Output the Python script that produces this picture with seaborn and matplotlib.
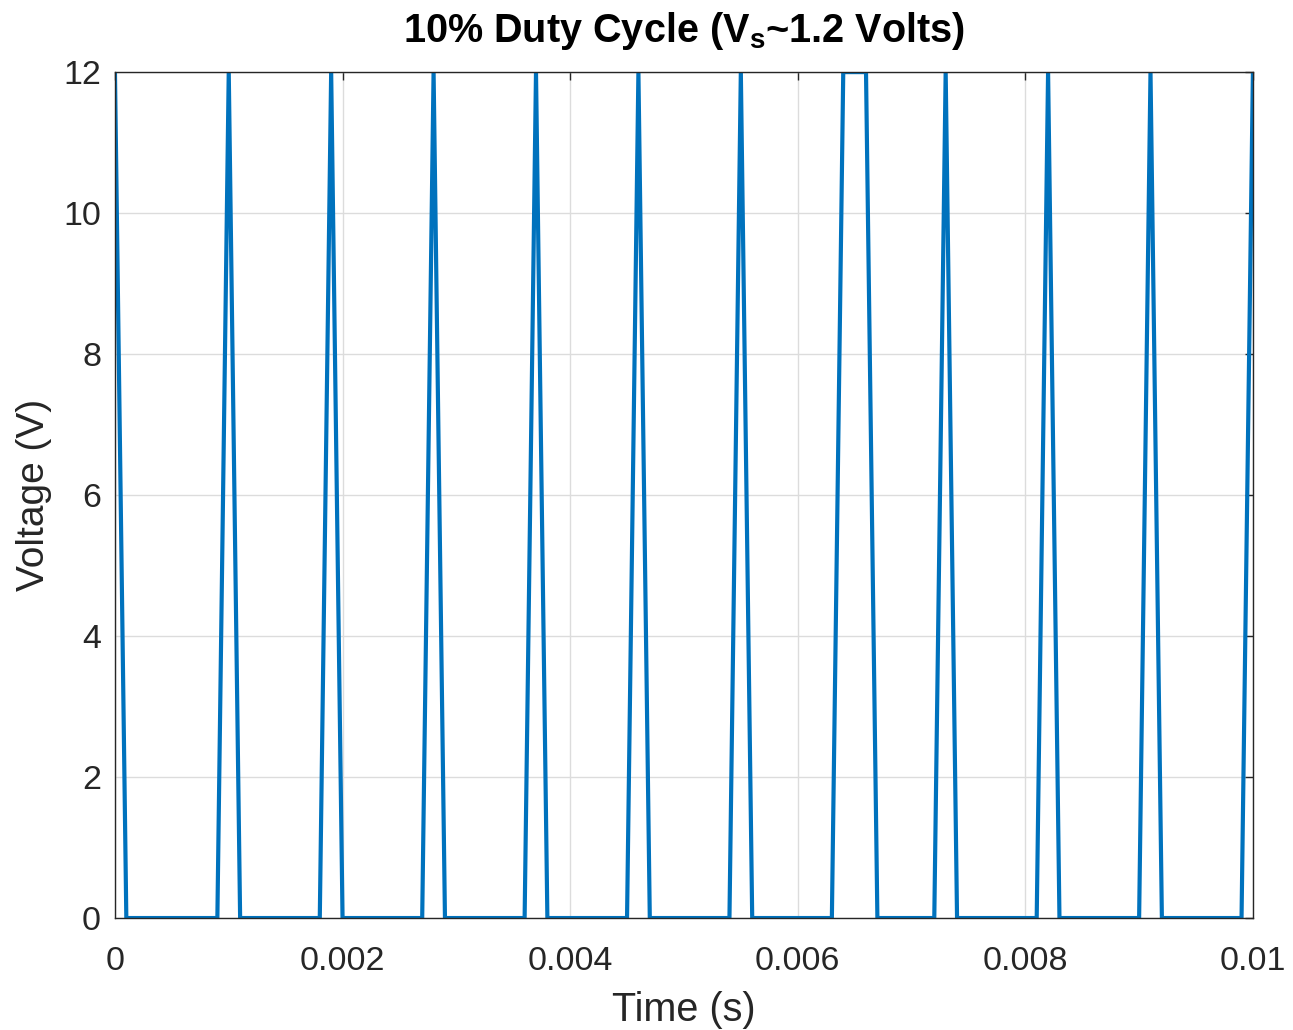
# PWM al 10% - señal muestreada
import numpy as np
import matplotlib.pyplot as plt
import seaborn as sns

# Datos: muestras cada 0.1 ms
dt = 1e-4
voltage = [12, 0, 0, 0, 0, 0, 0, 0, 0, 0,
           12, 0, 0, 0, 0, 0, 0, 0, 0, 12,
           0, 0, 0, 0, 0, 0, 0, 0, 12, 0,
           0, 0, 0, 0, 0, 0, 0, 12, 0, 0,
           0, 0, 0, 0, 0, 0, 12, 0, 0, 0,
           0, 0, 0, 0, 0, 12, 0, 0, 0, 0,
           0, 0, 0, 0, 12, 12, 12, 0, 0, 0,
           0, 0, 0, 12, 0, 0, 0, 0, 0, 0,
           0, 0, 12, 0, 0, 0, 0, 0, 0, 0,
           0, 12, 0, 0, 0, 0, 0, 0, 0, 0,
           12]
time = np.arange(len(voltage)) * dt
x_ticks = [0, 0.002, 0.004, 0.006, 0.008, 0.01]
x_labels = ['0', '0.002', '0.004', '0.006', '0.008', '0.01']
y_ticks = [0, 2, 4, 6, 8, 10, 12]

sns.set_style('white')
plt.rcParams['font.family'] = ['Liberation Sans', 'DejaVu Sans']
plt.rcParams['mathtext.fontset'] = 'custom'
plt.rcParams['mathtext.rm'] = 'Liberation Sans:bold'
plt.rcParams['mathtext.bf'] = 'Liberation Sans:bold'

fig = plt.figure(figsize=(12.93, 10.30), dpi=100)
ax = fig.add_axes([0.0889, 0.1087, 0.8801, 0.8213])

sns.lineplot(x=time, y=voltage, ax=ax, color='#0072BD', linewidth=3)

ax.set_xlim(0, 0.01)
ax.set_ylim(0, 12)
ax.set_xticks(x_ticks)
ax.set_xticklabels(x_labels)
ax.set_yticks(y_ticks)
ax.grid(True, color='#dcdcdc', linewidth=1)
ax.tick_params(direction='in', length=6, width=1, top=True, right=True,
               labelsize=24.5, colors='#262626')
ax.tick_params(axis='x', pad=20)
ax.tick_params(axis='y', pad=10)
for s in ax.spines.values():
    s.set_color('#262626')
    s.set_linewidth(1)

ax.set_xlabel('Time (s)', fontsize=28.5, color='#262626', labelpad=10)
ax.set_ylabel('Voltage (V)', fontsize=28, color='#262626', labelpad=8)
ax.set_title(r'10% Duty Cycle (V$_\mathregular{s}$~1.2 Volts)', fontsize=28.5,
             fontweight='bold', color='black', pad=22)

plt.savefig('out.png', facecolor='white')
